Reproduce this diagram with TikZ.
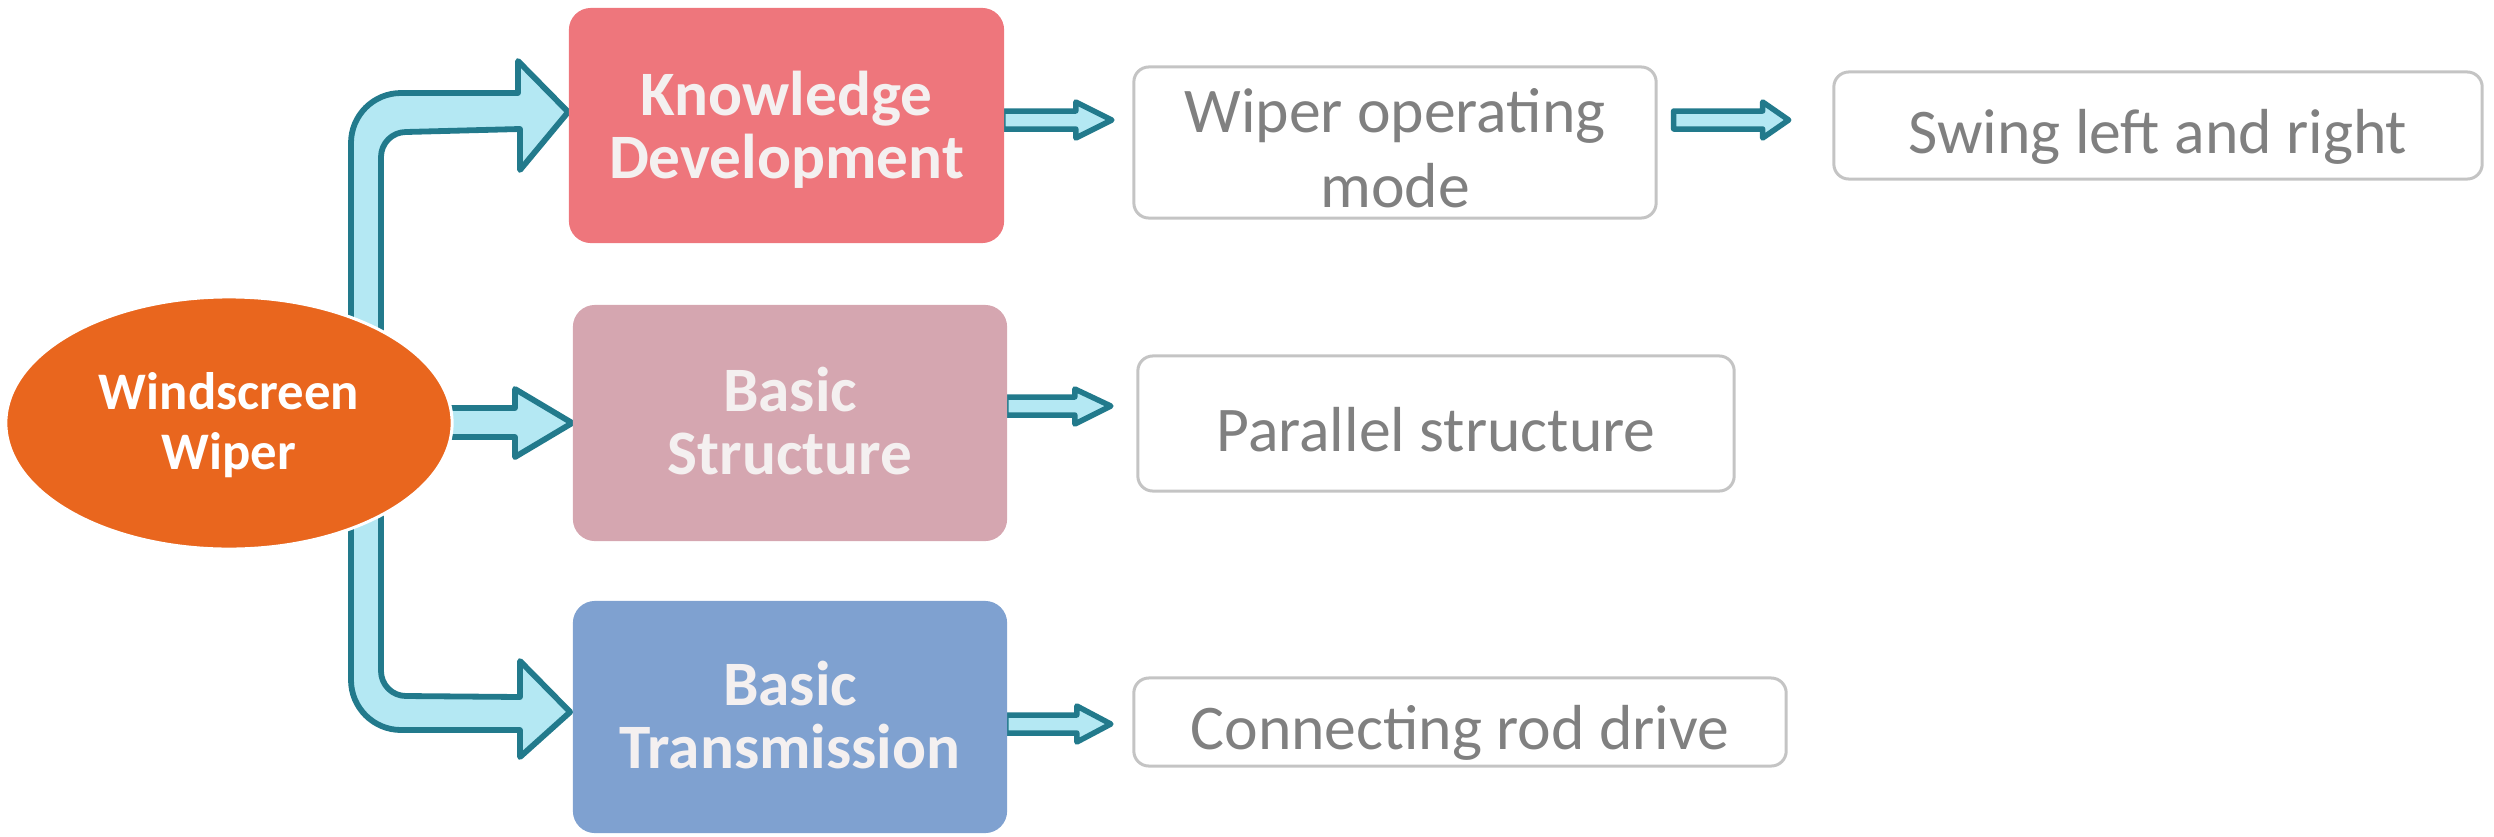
\documentclass[tikz,border=0pt]{standalone}
\usepackage{fontspec}
\setmainfont{Carlito}
\usetikzlibrary{shapes.geometric,calc,backgrounds}
\definecolor{wiperorange}{RGB}{233,102,30}
\definecolor{kdpink}{RGB}{238,118,124}
\definecolor{bsrose}{RGB}{213,166,176}
\definecolor{btblue}{RGB}{127,161,208}
\definecolor{arrowfill}{RGB}{180,232,243}
\definecolor{arrowline}{RGB}{34,122,140}
\definecolor{boxgray}{RGB}{196,196,196}
\definecolor{textgray}{RGB}{128,128,128}
\definecolor{offwhite}{RGB}{244,240,240}
\begin{document}
\begin{tikzpicture}[x=0.01cm,y=-0.01cm,
  catbox/.style={rectangle, rounded corners=0.22cm, inner sep=0pt, text=offwhite, align=center,
    text depth=0pt, font=\fontsize{18}{17.8}\selectfont\bfseries},
  leafbox/.style={rectangle, draw=boxgray, line width=0.03cm, rounded corners=0.15cm, fill=white,
    inner sep=0pt, text=textgray, align=center, font=\fontsize{18.1}{21.3}\selectfont},
  oneline/.style={text height=0.6cm, text depth=0.05cm},
  bigarr/.style={draw=arrowline, fill=arrowfill, line width=0.058cm, line join=round},
  smallarr/.style={draw=arrowline, fill=arrowfill, line width=0.055cm, line join=round}]
\useasboundingbox (0,0) rectangle (2494,836);

% category boxes
\node[catbox, fill=kdpink, minimum width=4.35cm, minimum height=2.35cm, text height=1.06cm] (kd) at (786.5,125.5) {Knowledge\\Development};
\node[catbox, fill=bsrose, minimum width=4.34cm, minimum height=2.36cm, text height=1.02cm] (bs) at (790,423) {Basic\\Structure};
\node[catbox, fill=btblue, minimum width=4.34cm, minimum height=2.32cm, text height=1.02cm] (bt) at (790,717) {Basic\\Transmission};

% leaf boxes
\node[leafbox, minimum width=5.22cm, minimum height=1.51cm, text height=1.29cm, text depth=0pt] (wom) at (1395,142.5) {Wiper operating\\mode};
\node[leafbox, oneline, minimum width=6.48cm, minimum height=1.07cm] (slr) at (2158,125.5) {Swing left and right};
\node[leafbox, oneline, minimum width=5.96cm, minimum height=1.35cm] (ps) at (1436,423.5) {Parallel structure};
\node[leafbox, oneline, minimum width=6.52cm, minimum height=0.88cm] (crd) at (1460,722) {Connecting rod drive};

% centre ellipse
\node[ellipse, fill=wiperorange, draw=white, line width=0.03cm, minimum width=4.46cm, minimum height=2.52cm,
  inner sep=0pt, text=white, align=center, text height=0.92cm, text depth=0pt,
  font=\fontsize{15}{16.8}\selectfont\bfseries] (ell) at (229,423) {Windscreen\\Wiper};

\begin{scope}[on background layer]
  % upper bent arrow
  \draw[bigarr] (351,360) -- (351,143) .. controls (351,115.4) and (373.4,93) .. (401,93)
    -- (518,93) -- (518,61) -- ($(kd.west)+(0,-13.5)$) -- (520,170) -- (520,129)
    -- (406,132) .. controls (392.2,132) and (381,143.2) .. (381,157) -- (381,360) -- cycle;
  % middle arrow
  \draw[bigarr] ($(ell.east)+(-30,-15)$) -- (515,408) -- (515,389) -- (bs.west) -- (515,457) -- (515,437)
    -- ($(ell.east)+(-30,14)$) -- cycle;
  % lower bent arrow
  \draw[bigarr] (351,480) -- (351,680) .. controls (351,707.6) and (373.4,730) .. (401,730)
    -- (520,730) -- (520,757) -- ($(bt.west)+(-2,-5)$) -- (520,661) -- (520,697)
    -- (406,696) .. controls (392.2,696) and (381,684.8) .. (381,671) -- (381,480) -- cycle;

  % small arrows
  \draw[smallarr] ($(kd.east)+(-2,-14.5)$) -- ++(73,0) -- ++(0,-9) -- ++(36,18) -- ++(-36,18)
    -- ++(0,-9) -- ++(-73,0) -- cycle;
  \draw[smallarr] ($(bs.east)+(-2,-26)$) -- ++(69,0) -- ++(0,-8) -- ++(36,17) -- ++(-36,18)
    -- ++(0,-9) -- ++(-69,0) -- cycle;
  \draw[smallarr] ($(bt.east)+(-2,-2)$) -- ++(71,0) -- ++(0,-9) -- ++(34,18) -- ++(-34,18)
    -- ++(0,-9) -- ++(-71,0) -- cycle;
\end{scope}
\draw[smallarr] ($(wom.east)+(16,-31.5)$) -- ++(89,0) -- ++(0,-9) -- ++(26,18) -- ++(-26,18)
  -- ++(0,-9) -- ++(-89,0) -- cycle;
\end{tikzpicture}
\end{document}
